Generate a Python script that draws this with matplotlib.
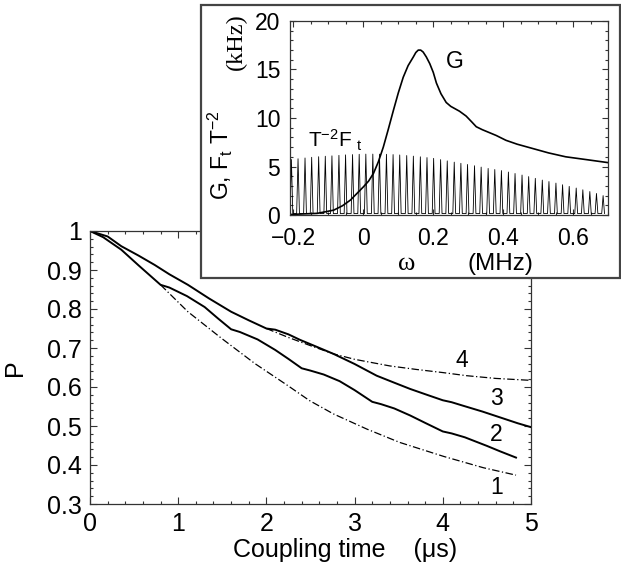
import numpy as np
import matplotlib
matplotlib.use('Agg')
import matplotlib.pyplot as plt
from matplotlib.patches import Rectangle
from matplotlib.ticker import MultipleLocator, FuncFormatter

plt.rcParams['font.family'] = ['Liberation Sans', 'DejaVu Sans']
plt.rcParams['mathtext.fontset'] = 'custom'
plt.rcParams['mathtext.rm'] = 'Liberation Sans'
plt.rcParams['mathtext.it'] = 'Liberation Sans'

# main panel: P vs coupling time (us)
t3 = [0, 0.2, 0.355, 0.55, 0.733, 0.9, 1.11, 1.35, 1.6, 1.8, 2.0, 2.1, 2.25, 2.38, 2.55, 2.76, 3.0, 3.25, 3.45, 3.63, 3.82, 4.0, 4.1, 4.23, 4.45, 4.65, 4.85, 5.0]
p3 = [1.0, 0.986, 0.961, 0.937, 0.913, 0.889, 0.862, 0.827, 0.793, 0.771, 0.750, 0.747, 0.735, 0.721, 0.705, 0.685, 0.659, 0.629, 0.611, 0.595, 0.580, 0.566, 0.561, 0.552, 0.537, 0.522, 0.507, 0.497]

t4 = [2.0, 2.25, 2.5, 2.76, 3.0, 3.14, 3.4, 3.7, 4.0, 4.27, 4.6, 5.0]
p4 = [0.750, 0.727, 0.706, 0.685, 0.671, 0.665, 0.654, 0.645, 0.637, 0.629, 0.622, 0.617]

t2 = [0, 0.15, 0.355, 0.55, 0.8, 0.9, 1.1, 1.3, 1.45, 1.6, 1.7, 1.9, 2.1, 2.25, 2.4, 2.5, 2.65, 2.83, 3.0, 3.2,
      3.3, 3.45, 3.63, 3.8, 4.0, 4.1, 4.25, 4.5, 4.65, 4.83]
p2 = [1.0, 0.984, 0.952, 0.912, 0.862, 0.855, 0.833, 0.805, 0.776, 0.748, 0.741, 0.722, 0.695, 0.672, 0.648, 0.642, 0.632, 0.615, 0.592, 0.562,
      0.556, 0.545, 0.527, 0.508, 0.486, 0.481, 0.471, 0.449, 0.435, 0.419]

t1 = [0.8, 1.11, 1.49, 1.87, 2.24, 2.49, 2.76, 3.14, 3.51, 4.01, 4.46, 4.83]
p1 = [0.862, 0.793, 0.725, 0.660, 0.604, 0.565, 0.531, 0.492, 0.458, 0.422, 0.393, 0.374]

curve_labels = ['1', '2', '3', '4']
label_t = [4.61, 4.61, 4.61, 4.21]
label_p = [0.342, 0.479, 0.570, 0.668]

# inset: G(omega) and T^-2 F_t (kHz) vs omega (MHz)
w_G = [-0.21, -0.18, -0.132, -0.085, -0.06, -0.037, 0.0, 0.015, 0.029, 0.043, 0.057, 0.071, 0.086, 0.1, 0.114,
       0.128, 0.143, 0.15, 0.157, 0.164, 0.171, 0.18, 0.19, 0.2, 0.209, 0.222, 0.237, 0.25,
       0.26, 0.275, 0.294, 0.31, 0.323, 0.34, 0.36, 0.38, 0.408, 0.44, 0.484, 0.53, 0.579, 0.64, 0.7]
G = [0.05, 0.1, 0.17, 0.5, 0.95, 1.54, 2.9, 3.5, 4.3, 5.5, 7.0, 8.8, 10.8, 12.6, 14.2,
     15.4, 16.3, 16.75, 17.0, 17.0, 16.8, 16.3, 15.6, 14.7, 13.6, 12.5, 11.6, 11.2,
     11.0, 10.7, 10.2, 9.6, 9.1, 8.8, 8.5, 8.2, 7.7, 7.3, 6.86, 6.4, 6.0, 5.7, 5.4]

w_peak = [-0.206, -0.187, -0.167, -0.148, -0.128, -0.109, -0.090, -0.070, -0.051, -0.031, -0.012, 0.007,
          0.027, 0.046, 0.066, 0.085, 0.104, 0.124, 0.143, 0.163, 0.182, 0.201, 0.221, 0.240, 0.260,
          0.279, 0.298, 0.318, 0.337, 0.357, 0.376, 0.395, 0.415, 0.434, 0.454, 0.473, 0.492, 0.512,
          0.531, 0.551, 0.570, 0.589, 0.609, 0.628, 0.648, 0.667, 0.686]
F_peak = [5.72, 5.80, 5.88, 5.95, 6.01, 6.06, 6.10, 6.15, 6.20, 6.23, 6.26, 6.28,
          6.28, 6.28, 6.26, 6.23, 6.19, 6.13, 6.07, 6.00, 5.92, 5.84, 5.71, 5.58, 5.45,
          5.33, 5.21, 5.08, 4.94, 4.80, 4.69, 4.58, 4.43, 4.28, 4.12, 3.96, 3.78, 3.60,
          3.45, 3.29, 3.12, 2.95, 2.78, 2.60, 2.42, 2.22, 2.00]
F_base = 0.15

W, H = 621, 569
fig = plt.figure(figsize=(W / 100, H / 100), dpi=100)
edge = '#333333'

ax = fig.add_axes([90 / W, 1 - 504 / H, 441 / W, 273 / H])
ax.plot(t3, p3, color='black', lw=1.4)
ax.plot(t2, p2, color='black', lw=1.4)
ax.plot(t4, p4, color='black', lw=0.9, linestyle=(0, (6, 2, 1, 2)))
ax.plot(t1, p1, color='black', lw=0.9, linestyle=(0, (6, 2, 1, 2)))
for s, x, y in zip(curve_labels, label_t, label_p):
    ax.text(x, y, s, fontsize=16.5, ha='center', va='center')

ax.set_xlim(0, 5)
ax.set_ylim(0.3, 1.0)
ax.xaxis.set_major_locator(MultipleLocator(1))
ax.xaxis.set_minor_locator(MultipleLocator(0.2))
ax.yaxis.set_major_locator(MultipleLocator(0.1))
ax.yaxis.set_minor_locator(MultipleLocator(0.02))
ax.yaxis.set_major_formatter(FuncFormatter(lambda v, pos: '1' if abs(v - 1) < 1e-6 else f'{v:.1f}'))
ax.xaxis.set_major_formatter(FuncFormatter(lambda v, pos: f'{v:.0f}'))
ax.tick_params(which='both', direction='in', top=True, right=True, color=edge, width=0.8)
ax.tick_params(which='major', length=5, labelsize=18, pad=6)
ax.tick_params(which='minor', length=2.5)
for sp in ax.spines.values():
    sp.set_color(edge)
    sp.set_linewidth(0.9)
ax.text(-0.17, 0.5, 'P', transform=ax.transAxes, fontsize=18, rotation=90, ha='center', va='center')
ax.text(0.578, -0.168, 'Coupling time    (μs)', transform=ax.transAxes,
        fontsize=18, ha='center', va='center')

# white box behind the inset
box = Rectangle((201 / W, 1 - 278 / H), 419 / W, 273 / H, transform=fig.transFigure,
                facecolor='white', edgecolor='#444444', lw=1.6, zorder=5)
fig.add_artist(box)

axi = fig.add_axes([290 / W, 1 - 215 / H, 318 / W, 194 / H])
axi.set_zorder(10)
xs, ys = [], []
for p, h in zip(w_peak, F_peak):
    xs += [p - 0.004, p, p + 0.004]
    ys += [F_base, h, F_base]
axi.plot(xs, ys, color='black', lw=0.6)
axi.plot(w_G, G, color='black', lw=1.2)
axi.text(0.261, 15.8, 'G', fontsize=16.5, ha='center', va='center')
axi.text(-0.159, 7.7, r'T$^{-2}$F $_t$', fontsize=15, ha='left', va='center')

axi.set_xlim(-0.21, 0.7)
axi.set_ylim(0, 20)
axi.xaxis.set_major_locator(MultipleLocator(0.2))
axi.xaxis.set_minor_locator(MultipleLocator(0.05))
axi.yaxis.set_major_locator(MultipleLocator(5))
axi.yaxis.set_minor_locator(MultipleLocator(1))
axi.xaxis.set_major_formatter(FuncFormatter(lambda v, pos: '0' if abs(v) < 1e-9 else f'{v:.1f}'.replace('-', '\u2212')))
axi.tick_params(which='both', direction='in', top=True, right=True, color=edge, width=0.8)
axi.tick_params(which='major', length=4.5, labelsize=16.5)
axi.tick_params(axis='x', which='major', pad=8.5)
axi.tick_params(axis='y', which='major', pad=7)
axi.tick_params(which='minor', length=2.2)
for sp in axi.spines.values():
    sp.set_color(edge)
    sp.set_linewidth(0.9)

fig.text(407 / W, 1 - 264 / H, 'ω', fontsize=19, family='Liberation Serif', ha='center', va='center', zorder=20)
fig.text(500 / W, 1 - 264 / H, '(MHz)', fontsize=17.5, ha='center', va='center', zorder=20)
fig.text(220 / W, 1 - 155 / H, r'G, F$_t$ T$^{-2}$', fontsize=16.5, rotation=90, ha='center', va='center', zorder=20)
fig.text(236 / W, 1 - 42 / H, '(kHz)', fontsize=17.5, family='Liberation Serif', rotation=90,
         ha='center', va='center', zorder=20)

fig.savefig('out.png', dpi=100, facecolor='white')
